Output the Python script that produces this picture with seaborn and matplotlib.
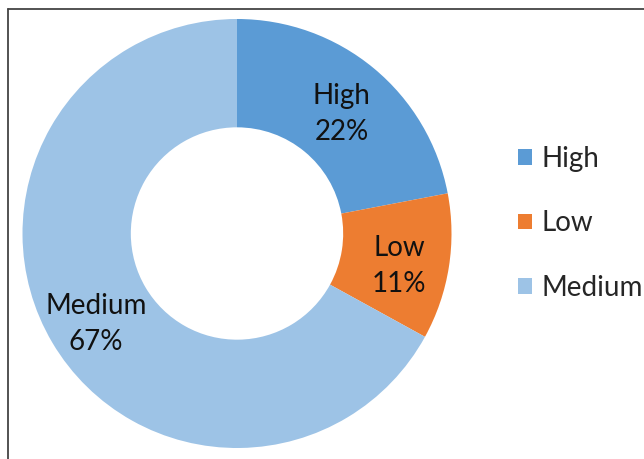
import matplotlib
matplotlib.use("Agg")
import matplotlib.pyplot as plt
import matplotlib.transforms as mtransforms
import seaborn as sns
from matplotlib.patches import Patch
from matplotlib.lines import Line2D

categories = ["High", "Low", "Medium"]
values = [22, 11, 67]
colors = ["#5B9BD5", "#ED7D31", "#9DC3E6"]

sns.set_theme(style="white")
plt.rcParams['font.family'] = ['Lato', 'DejaVu Sans']

W, H = 644, 459
fig = plt.figure(figsize=(W / 100, H / 100), dpi=100)
fig.patch.set_facecolor("white")

cx, cy, R = 237, 233.5, 214.5
ax = fig.add_axes([(cx - R) / W, (H - cy - R) / H, 2 * R / W, 2 * R / H])

names = iter(categories)
wedges, texts, autotexts = ax.pie(
    values, colors=sns.color_palette(colors), startangle=90, counterclock=False,
    wedgeprops=dict(width=0.505, edgecolor="none"),
    autopct=lambda p: f"{next(names)}\n{p:.0f}%", pctdistance=0.765,
    textprops=dict(fontsize=20, color="#111111"))
shift = mtransforms.offset_copy(ax.transData, fig=fig, x=0, y=-5, units="points")
for t in autotexts:
    t.set_linespacing(1.5)
    t.set_transform(shift)
ax.set_xlim(-1, 1)
ax.set_ylim(-1, 1)
ax.set_aspect("auto")
ax.axis("off")

handles = [Patch(facecolor=c, edgecolor="none") for c in colors]
fig.legend(handles, categories, loc="upper left", bbox_to_anchor=(518 / W, 1 - 146 / H),
           frameon=False, fontsize=20, handlelength=0.5, handleheight=0.5,
           handletextpad=0.35, labelspacing=1.38, borderpad=0, borderaxespad=0)

lc = "#444444"
fig.add_artist(Line2D([8 / W, 1], [1 - 9 / H, 1 - 9 / H], transform=fig.transFigure, color=lc, lw=1.3))
fig.add_artist(Line2D([8 / W, 8 / W], [0, 1 - 9 / H], transform=fig.transFigure, color=lc, lw=1.3))

fig.savefig("out.png", dpi=100)
